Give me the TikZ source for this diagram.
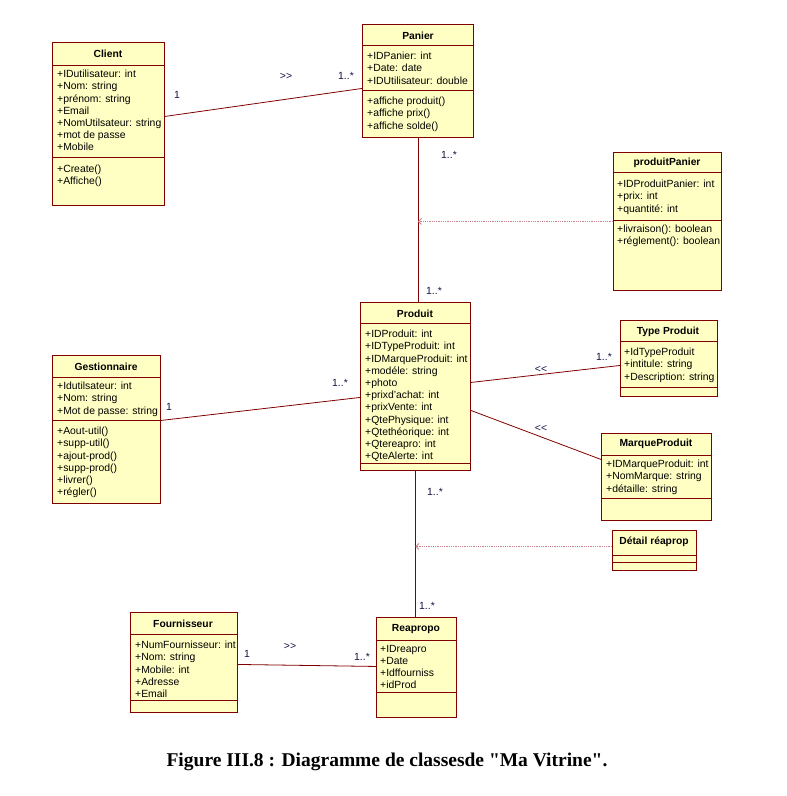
\documentclass[tikz,border=0pt]{standalone}
\usepackage{fontspec}
\setmainfont{Liberation Serif}
\setsansfont{Liberation Sans}
\newfontfamily\capfont{Liberation Serif}
\usepackage{tikz}
\usetikzlibrary{arrows.meta, positioning, calc}
\definecolor{umlred}{RGB}{128,0,0}
\definecolor{umlfill}{RGB}{255,255,196}
\definecolor{umldot}{RGB}{205,130,140}
\definecolor{multblue}{RGB}{20,20,70}
\tikzset{
  classbox/.style={rectangle, draw=umlred, fill=umlfill, line width=0.9pt,
    inner sep=0pt, anchor=north west},
  classname/.style={font=\sffamily\bfseries\fontsize{10.3}{12}\selectfont, inner sep=0pt},
  members/.style={anchor=north west, align=left, inner sep=0pt,
    font=\sffamily\fontsize{10.4}{12.2}\selectfont},
  sep/.style={draw=umlred, line width=0.9pt},
  assoc/.style={draw=umlred, line width=0.8pt},
  assocclass/.style={draw=umldot, densely dotted, line width=0.8pt,
    -{Straight Barb[length=3pt, width=6pt]}},
  mult/.style={font=\sffamily\fontsize{10.4}{12}\selectfont, text=multblue, inner sep=0pt}
}

\begin{document}
\begin{tikzpicture}[x=1pt, y=-1pt]
  \useasboundingbox (0,0) rectangle (787,796);
  % Client
  \node[classbox, minimum width=112pt, minimum height=163pt] (client) at (52,42) {};
  \node[classname] (clientname) at (108,54) {Client};
  \draw[sep] (52,65) -- (164,65);
  \draw[sep] (52,157) -- (164,157);
  \node[members] (clientattr) at (57,70) {+IDutilisateur: int\\+Nom: string\\+prénom: string\\+Email\\+NomUtilsateur: string\\+mot de passe\\+Mobile};
  \node[members] (clientops) at (57,165) {+Create()\\+Affiche()};
  % Panier
  \node[classbox, minimum width=111pt, minimum height=113pt] (panier) at (362,24) {};
  \node[classname] (paniername) at (418,36) {Panier};
  \draw[sep] (362,45) -- (473,45);
  \draw[sep] (362,90) -- (473,90);
  \node[members] (panierattr) at (367,52) {+IDPanier: int\\+Date: date\\+IDUtilisateur: double};
  \node[members] (panierops) at (367,97) {+affiche produit()\\+affiche prix()\\+affiche solde()};
  % produitPanier
  \node[classbox, minimum width=108pt, minimum height=138pt] (produitpanier) at (613,152) {};
  \node[classname] (produitpaniername) at (667,163) {produitPanier};
  \draw[sep] (613,172) -- (721,172);
  \draw[sep] (613,220) -- (721,220);
  \node[members] (produitpanierattr) at (617,180) {+IDProduitPanier: int\\+prix: int\\+quantité: int};
  \node[members] (produitpanierops) at (617,225) {+livraison(): boolean\\+réglement(): boolean};
  % Produit
  \node[classbox, minimum width=110pt, minimum height=168pt] (produit) at (360,302) {};
  \node[classname] (produitname) at (415,314) {Produit};
  \draw[sep] (360,323) -- (470,323);
  \draw[sep] (360,463) -- (470,463);
  \node[members] (produitattr) at (365,330) {+IDProduit: int\\+IDTypeProduit: int\\+IDMarqueProduit: int\\+modéle: string\\+photo\\+prixd'achat: int\\+prixVente: int\\+QtePhysique: int\\+Qtethéorique: int\\+Qtereapro: int\\+QteAlerte: int};
  % Gestionnaire
  \node[classbox, minimum width=108pt, minimum height=148pt] (gestionnaire) at (52,355) {};
  \node[classname] (gestionnairename) at (106,367) {Gestionnaire};
  \draw[sep] (52,377) -- (160,377);
  \draw[sep] (52,420) -- (160,420);
  \node[members] (gestionnaireattr) at (57,382) {+Idutilsateur: int\\+Nom: string\\+Mot de passe: string};
  \node[members] (gestionnaireops) at (57,427) {+Aout-util()\\+supp-util()\\+ajout-prod()\\+supp-prod()\\+livrer()\\+régler()};
  % Type Produit
  \node[classbox, minimum width=97pt, minimum height=76pt] (typeproduit) at (620,320) {};
  \node[classname] (typeproduitname) at (668,332) {Type Produit};
  \draw[sep] (620,341) -- (717,341);
  \draw[sep] (620,387) -- (717,387);
  \node[members] (typeproduitattr) at (624,348) {+IdTypeProduit\\+intitule: string\\+Description: string};
  % MarqueProduit
  \node[classbox, minimum width=110pt, minimum height=87pt] (marqueproduit) at (601,433) {};
  \node[classname] (marqueproduitname) at (656,444) {MarqueProduit};
  \draw[sep] (601,455) -- (711,455);
  \draw[sep] (601,498) -- (711,498);
  \node[members] (marqueproduitattr) at (606,460) {+IDMarqueProduit: int\\+NomMarque: string\\+détaille: string};
  % Detail reaprop
  \node[classbox, minimum width=84pt, minimum height=40pt] (detail) at (612,530) {};
  \node[classname] (detailname) at (654,542) {Détail réaprop};
  \draw[sep] (612,555) -- (696,555);
  \draw[sep] (612,562) -- (696,562);
  % Fournisseur
  \node[classbox, minimum width=107pt, minimum height=100pt] (fournisseur) at (130,612) {};
  \node[classname] (fournisseurname) at (183,624) {Fournisseur};
  \draw[sep] (130,634) -- (237,634);
  \draw[sep] (130,700) -- (237,700);
  \node[members] (fournisseurattr) at (135,641) {+NumFournisseur: int\\+Nom: string\\+Mobile: int\\+Adresse\\+Email};
  % Reapropo
  \node[classbox, minimum width=80pt, minimum height=100pt] (reapropo) at (376,617) {};
  \node[classname] (reaproponame) at (416,629) {Reapropo};
  \draw[sep] (376,640) -- (456,640);
  \draw[sep] (376,692) -- (456,692);
  \node[members] (reapropoattr) at (380,645) {+IDreapro\\+Date\\+Idffourniss\\+idProd};
  % Associations
  \draw[assoc] ([yshift=7.5pt]client.east) -- ([yshift=-7.5pt]panier.west);
  \draw[assoc] (panier.south) -- (panier.south |- produit.north);
  \coordinate (panierjoin) at (panier.south |- produitpanier.west);
  \draw[assocclass] (produitpanier.west) -- (panierjoin);
  \draw[assoc] ([yshift=9pt]gestionnaire.east) -- ([yshift=-11pt]produit.west);
  \draw[assoc] ([yshift=4pt]produit.east) -- ([yshift=-7pt]typeproduit.west);
  \draw[assoc] ([yshift=-24pt]produit.east) -- ([yshift=17.5pt]marqueproduit.west);
  \draw[assoc] (produit.south) -- (produit.south |- reapropo.north);
  \coordinate (detailport) at ([yshift=4pt]detail.west);
  \coordinate (produitjoin) at (produit.south |- detailport);
  \draw[assocclass] (detailport) -- (produitjoin);
  \draw[assoc] ([yshift=-2pt]fournisseur.east) -- ([yshift=1pt]reapropo.west);
  % Multiplicities
  \node[mult] (m1) at (177,95) {1};
  \node[mult] (d1) at (286,76) {>{}>};
  \node[mult] (m2) at (346,76) {1..*};
  \node[mult] (m3) at (449,155) {1..*};
  \node[mult] (m4) at (434,291) {1..*};
  \node[mult] (m5) at (169,407) {1};
  \node[mult] (m6) at (340,383) {1..*};
  \node[mult] (d2) at (541,369) {<{}<};
  \node[mult] (m7) at (604,357) {1..*};
  \node[mult] (d3) at (541,428) {<{}<};
  \node[mult] (m8) at (435,492) {1..*};
  \node[mult] (m9) at (427,606) {1..*};
  \node[mult] (m10) at (247,654) {1};
  \node[mult] (d4) at (290,646) {>{}>};
  \node[mult] (m11) at (362,657) {1..*};
  % Caption
  \node[font=\capfont\bfseries\fontsize{19.5}{22}\selectfont] (caption) at (387,762) {Figure III.8 : Diagramme de classesde "Ma Vitrine".};
\end{tikzpicture}
\end{document}
